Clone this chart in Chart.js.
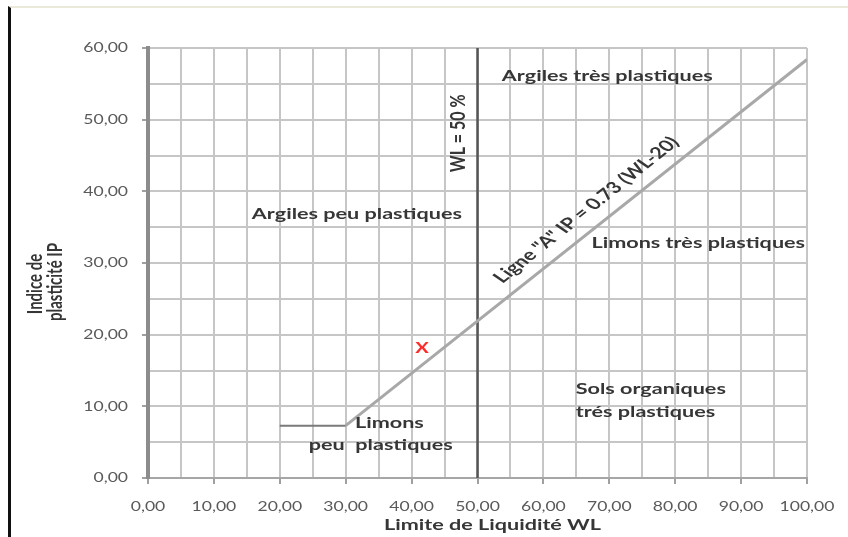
<!DOCTYPE html>
<html lang="fr">
<head>
<meta charset="utf-8">
<title>Abaque de plasticité de Casagrande</title>
<script src="https://cdn.jsdelivr.net/npm/chart.js@4.4.1/dist/chart.umd.min.js"></script>
<style>
  html, body { margin: 0; padding: 0; background: #ffffff; }
  #wrap { position: relative; width: 848px; height: 537px; overflow: hidden; }
  #frame {
    position: absolute; left: 8px; top: 6px; right: -4px; bottom: -4px;
    border-left: 3px solid #111111; border-top: 2px solid #ebe8dc;
  }
  #plot { position: absolute; left: 0; top: 0; }
</style>
</head>
<body>
<div id="wrap">
  <div id="frame"></div>
  <canvas id="plot" width="848" height="537"></canvas>
</div>
<script>
// Ligne "A" : IP = 0.73 (WL - 20), prolongée par un palier à gauche
const aLineWL = [20, 30, 100];
const aLineIP = [7.3, 7.3, 58.4];

// Limite verticale WL = 50 %
const limitWL = [50, 50];
const limitIP = [0, 60];

// Échantillon reporté sur l'abaque
const sampleWL = [41.6];
const sampleIP = [18.1];

// Graduations des axes
const xTickValues = [0, 10, 20, 30, 40, 50, 60, 70, 80, 90, 100];
const yTickValues = [0, 10, 20, 30, 40, 50, 60];

// Domaines de l'abaque
const zoneTexts = ['Argiles très plastiques', 'Argiles peu plastiques', 'Limons très plastiques',
                   'Limons', 'peu  plastiques', 'Sols organiques', 'trés plastiques'];
const zoneWL = [69.7, 31.7, 83.5, 31.4, 24.4, 64.9, 64.9];
const zoneIP = [56.1, 36.8, 32.8, 7.7, 4.6, 12.4, 9.2];
const zoneAlign = ['center', 'center', 'center', 'left', 'left', 'left', 'left'];

const limitText = 'WL = 50 %';
const limitTextAt = [47.0, 48.1];
const aLineText = 'Ligne "A" IP = 0.73 (WL-20)';
const aLineTextAt = [66.5, 37.4];
const xTitle = 'Limite de Liquidité WL';
const yTitle = ['Indice de', 'plasticité IP'];

const toPoints = (xs, ys) => xs.map((x, i) => ({ x: x, y: ys[i] }));
const fmt = v => v.toFixed(2).replace('.', ',');

// The lettering is drawn slightly widened horizontally
const STRETCH = 1.35;
const BOLD = 'bold 16px Lato';

function drawText(ctx, text, x, y, opts) {
  ctx.save();
  ctx.translate(x, y);
  ctx.scale(STRETCH, 1);
  if (opts.angle) ctx.rotate(opts.angle);
  ctx.font = opts.font || BOLD;
  ctx.fillStyle = opts.color || '#363636';
  ctx.textAlign = opts.align || 'center';
  ctx.textBaseline = 'middle';
  ctx.fillText(text, 0, 0);
  ctx.restore();
}

const labelPlugin = {
  id: 'abaqueLabels',
  afterDraw(chart) {
    const ctx = chart.ctx;
    const xs = chart.scales.x, ys = chart.scales.y;
    const area = chart.chartArea;

    // tick labels
    xTickValues.forEach(v => {
      drawText(ctx, fmt(v), xs.getPixelForValue(v), area.bottom + 29,
        { font: '13px Lato', color: '#5a5a5a' });
    });
    yTickValues.forEach(v => {
      drawText(ctx, fmt(v), area.left - 20, ys.getPixelForValue(v),
        { font: '13px Lato', color: '#5a5a5a', align: 'right' });
    });

    // axis titles
    drawText(ctx, xTitle, (area.left + area.right) / 2 + 15, area.bottom + 47, { font: BOLD });
    drawText(ctx, yTitle[0], 35, (area.top + area.bottom) / 2 + 21,
      { font: 'bold 15px Lato', angle: -Math.PI / 2 });
    drawText(ctx, yTitle[1], 55, (area.top + area.bottom) / 2 + 19,
      { font: 'bold 15px Lato', angle: -Math.PI / 2 });

    // zone names
    zoneTexts.forEach((t, i) => {
      drawText(ctx, t, xs.getPixelForValue(zoneWL[i]), ys.getPixelForValue(zoneIP[i]),
        { align: zoneAlign[i] });
    });

    // WL = 50 % along the vertical limit
    drawText(ctx, limitText, xs.getPixelForValue(limitTextAt[0]), ys.getPixelForValue(limitTextAt[1]),
      { angle: -Math.PI / 2 });

    // label following the A-line slope
    const pts = chart.getDatasetMeta(0).data;
    const p1 = pts[1], p2 = pts[2];
    const slope = (p2.y - p1.y) / (p2.x - p1.x);
    const ang = Math.atan(slope * STRETCH);
    drawText(ctx, aLineText, xs.getPixelForValue(aLineTextAt[0]), ys.getPixelForValue(aLineTextAt[1]),
      { angle: ang });

    // sample marker
    const s = chart.getDatasetMeta(2).data[0];
    drawText(ctx, 'X', s.x, s.y, { font: 'bold 15px Lato', color: '#ff2b2b' });
  }
};

new Chart(document.getElementById('plot'), {
  type: 'scatter',
  data: {
    datasets: [
      {
        data: toPoints(aLineWL, aLineIP),
        showLine: true,
        borderColor: '#a8a8a8',
        borderWidth: 3,
        pointRadius: 0,
        segment: {
          borderColor: c => c.p0DataIndex === 0 ? '#7a7a7a' : '#a8a8a8',
          borderWidth: c => c.p0DataIndex === 0 ? 2 : 3
        }
      },
      {
        data: toPoints(limitWL, limitIP),
        showLine: true,
        borderColor: '#555555',
        borderWidth: 2.5,
        pointRadius: 0
      },
      {
        data: toPoints(sampleWL, sampleIP),
        pointRadius: 0,
        showLine: false
      }
    ]
  },
  options: {
    responsive: false,
    animation: false,
    devicePixelRatio: 1,
    events: [],
    layout: { padding: { left: 0, right: 41, top: 48, bottom: 0 } },
    plugins: { legend: { display: false }, tooltip: { enabled: false } },
    scales: {
      x: {
        type: 'linear', min: 0, max: 100,
        afterFit: s => { s.height = 59; },
        ticks: { stepSize: 5, display: false },
        grid: {
          color: '#c6c6c6', lineWidth: 2, tickLength: 6,
          tickColor: c => (c.tick && c.tick.value % 10 === 0) ? '#a0a0a0' : 'rgba(0,0,0,0)'
        },
        border: { color: '#a6a6a6', width: 2 }
      },
      y: {
        type: 'linear', min: 0, max: 60,
        afterFit: s => { s.width = 148; },
        ticks: { stepSize: 5, display: false },
        grid: {
          color: '#c6c6c6', lineWidth: 2, tickLength: 6,
          tickColor: c => (c.tick && c.tick.value % 10 === 0) ? '#a0a0a0' : 'rgba(0,0,0,0)'
        },
        border: { color: '#8c8c8c', width: 4 }
      }
    }
  },
  plugins: [labelPlugin]
});
</script>
</body>
</html>
